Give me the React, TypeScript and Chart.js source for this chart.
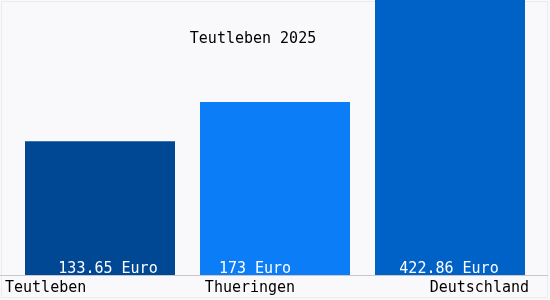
import React, { useEffect, useRef } from "react";
import { Chart, registerables } from "chart.js";

Chart.register(...registerables);

const title = "Teutleben 2025";
const categories = ["Teutleben", "Thueringen", "Deutschland"];
const values = [133.65, 173, 422.86];
const valueLabels = ["133.65 Euro", "173 Euro", "422.86 Euro"];
const barColors = ["#004894", "#0a7df7", "#0062c6"];
const yMax = 275;

const FONT = "15px 'DejaVu Sans Mono', monospace";

const overlay = {
  id: "overlay",
  beforeDraw(chart: any) {
    const { ctx, width, height } = chart;
    ctx.save();
    ctx.fillStyle = "#f9f9fb";
    ctx.fillRect(0, 0, width, height);
    ctx.strokeStyle = "#ececf0";
    ctx.lineWidth = 1;
    ctx.strokeRect(1.5, 1.5, width - 4, height - 4);
    ctx.restore();
  },
  afterDatasetsDraw(chart: any) {
    const { ctx, chartArea, width } = chart;
    const meta = chart.getDatasetMeta(0);
    ctx.save();
    // baseline
    ctx.strokeStyle = "#c8c8cc";
    ctx.lineWidth = 1;
    ctx.beginPath();
    ctx.moveTo(0, chartArea.bottom + 0.5);
    ctx.lineTo(width - 2, chartArea.bottom + 0.5);
    ctx.stroke();

    ctx.font = FONT;
    ctx.textBaseline = "middle";
    // value labels
    const valueOffsets = [8, -20, -1];
    ctx.fillStyle = "#ffffff";
    ctx.textAlign = "center";
    meta.data.forEach((bar: any, i: number) => {
      ctx.fillText(valueLabels[i], bar.x + valueOffsets[i], chartArea.bottom - 6);
    });
    // category labels
    ctx.fillStyle = "#000000";
    const aligns = ["left", "center", "right"];
    const catX = [5, 250, 529];
    categories.forEach((c, i) => {
      ctx.textAlign = aligns[i];
      ctx.fillText(c, catX[i], chartArea.bottom + 13);
    });
    // title
    ctx.textAlign = "center";
    ctx.fillText(title, 253, 39);
    ctx.restore();
  },
};

export default function App() {
  const ref = useRef<HTMLCanvasElement>(null);
  useEffect(() => {
    if (!ref.current) return;
    const chart = new Chart(ref.current, {
      type: "bar",
      data: {
        labels: categories,
        datasets: [
          {
            data: values,
            backgroundColor: barColors,
            borderWidth: 0,
            barPercentage: 150 / 175,
            categoryPercentage: 1,
          },
        ],
      },
      options: {
        responsive: false,
        animation: false,
        layout: { padding: { left: 12.5, right: 12.5, top: 0, bottom: 25 } },
        plugins: {
          legend: { display: false },
          title: { display: false },
          tooltip: { enabled: false },
        },
        scales: {
          x: { display: false },
          y: { display: false, min: 0, max: yMax },
        },
      },
      plugins: [overlay],
    });
    return () => chart.destroy();
  }, []);
  return (
    <div style={{ position: "fixed", left: 0, top: 0, width: 550, height: 300 }}>
      <canvas ref={ref} width={550} height={300} />
    </div>
  );
}
